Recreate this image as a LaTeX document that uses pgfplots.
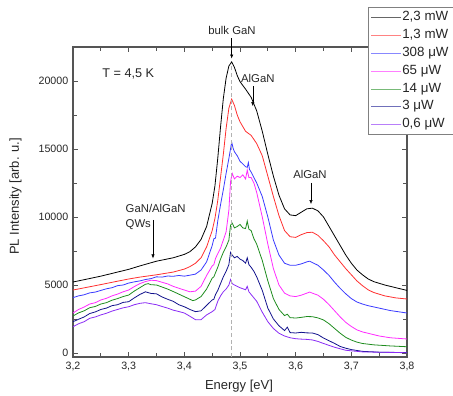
\documentclass[border=0pt]{standalone}
\usepackage{fontspec}
\setmainfont{Liberation Sans}
\usepackage{pgfplots}
\pgfplotsset{compat=1.18}
\usetikzlibrary{arrows.meta}
\definecolor{cRed}{HTML}{FF3030}
\definecolor{cBlue}{HTML}{3A3AFF}
\definecolor{cMag}{HTML}{FF2AFF}
\definecolor{cGreen}{HTML}{1E8C1E}
\definecolor{cNavy}{HTML}{12128C}
\definecolor{cViolet}{HTML}{8A2BF5}
\definecolor{axgray}{HTML}{555555}
\begin{document}
\begin{tikzpicture}
\begin{axis}[
  scale only axis, width=250.5pt, height=232.5pt,
  xmin=3.2, xmax=3.8, ymin=-294, ymax=22500,
  xtick={3.2,3.3,3.4,3.5,3.6,3.7,3.8},
  ytick={0,5000,10000,15000,20000},
  scaled y ticks=false,
  minor x tick num=1, minor y tick num=1,
  tick align=inside,
  major tick length=3.5pt, minor tick length=3pt,
  axis line style={axgray, line width=0.8pt},
  every tick/.style={axgray, line width=0.6pt},
  /pgf/number format/assume math mode=true,
  /pgf/number format/1000 sep={},
  yticklabel style={/pgf/number format/fixed},
  xticklabel style={/pgf/number format/use comma, /pgf/number format/fixed, /pgf/number format/precision=1},
  tick label style={font=\fontsize{8}{9}\selectfont, text=black!85},
  xlabel={Energy [eV]}, ylabel={PL Intensity [arb. u.]},
  label style={font=\fontsize{9.75}{11}\selectfont, text=black!85},
  xlabel style={at={(axis description cs:0.497,-0.0935)}, anchor=center},
  ylabel style={at={(axis description cs:-0.172,0.518)}, anchor=center},
  clip=false,
  legend style={at={(axis description cs:0.883,1.129)}, anchor=north west,
    draw=gray, fill=white, line width=0.6pt,
    font=\fontsize{10}{11}\selectfont, text=black!85,
    nodes={inner sep=1pt, text height=7.2pt, text depth=2.2pt},
    row sep=1.95pt, inner xsep=2pt, inner ysep=2pt},
  legend cell align=left,
  legend image code/.code={\draw[#1, line width=0.5pt, draw opacity=0.6] (0pt,0pt) -- (22pt,0pt);},
  every axis plot/.append style={line width=0.6pt},
]
\addplot[draw=black] coordinates {
(3.20,5220)(3.22,5390)(3.25,5650)(3.28,5950)(3.30,6150)(3.32,6400)(3.35,6750)(3.38,7000)(3.40,7250)(3.41,7450)(3.42,7800)(3.43,8350)(3.44,9300)(3.45,11000)(3.455,12300)(3.46,14300)(3.465,16600)(3.47,18700)(3.475,20200)(3.48,21100)(3.485,21400)(3.49,21000)(3.495,20400)(3.50,19950)(3.51,19400)(3.52,18800)(3.53,17800)(3.54,16300)(3.55,14600)(3.56,13000)(3.57,11600)(3.58,10600)(3.59,10150)(3.60,10100)(3.61,10350)(3.62,10600)(3.63,10650)(3.64,10450)(3.65,10000)(3.66,9300)(3.67,8600)(3.68,7900)(3.69,7200)(3.70,6600)(3.71,6100)(3.72,5750)(3.73,5450)(3.74,5250)(3.76,5000)(3.78,4800)(3.80,4600)};
\addlegendentry{\makebox[50pt][l]{2,3 mW}}
\addplot[draw=cRed] coordinates {
(3.20,4630)(3.22,4790)(3.25,5030)(3.28,5280)(3.30,5440)(3.32,5580)(3.35,5750)(3.38,5950)(3.40,6170)(3.41,6350)(3.42,6600)(3.43,7000)(3.44,7800)(3.45,9000)(3.455,9900)(3.46,11200)(3.465,12900)(3.47,14600)(3.475,16500)(3.48,18000)(3.485,18670)(3.49,18200)(3.495,17500)(3.50,17000)(3.51,16300)(3.52,16000)(3.53,15400)(3.54,14500)(3.55,13000)(3.56,11500)(3.57,10100)(3.58,9000)(3.59,8550)(3.60,8500)(3.61,8700)(3.62,8850)(3.63,8880)(3.64,8650)(3.65,8250)(3.66,7800)(3.67,7200)(3.68,6700)(3.69,6200)(3.70,5750)(3.71,5300)(3.72,4950)(3.73,4650)(3.74,4450)(3.76,4200)(3.78,4050)(3.80,3970)};
\addlegendentry{1,3 mW}
\addplot[draw=cBlue] coordinates {
(3.20,4070)(3.21,4200)(3.22,4280)(3.23,4420)(3.24,4480)(3.25,4600)(3.26,4720)(3.27,4800)(3.28,4950)(3.29,5000)(3.30,5140)(3.31,5230)(3.32,5300)(3.33,5400)(3.34,5470)(3.35,5600)(3.36,5580)(3.37,5660)(3.38,5640)(3.39,5700)(3.40,5650)(3.41,5720)(3.42,5800)(3.43,6100)(3.44,6700)(3.45,7900)(3.453,8400)(3.456,8450)(3.46,9700)(3.465,10900)(3.47,12000)(3.475,13200)(3.48,14300)(3.485,15500)(3.488,15000)(3.49,14800)(3.495,14500)(3.50,14100)(3.505,13900)(3.51,13700)(3.513,13650)(3.515,14000)(3.517,13500)(3.52,13300)(3.525,12900)(3.53,12500)(3.54,11500)(3.55,10000)(3.56,8300)(3.57,7200)(3.58,6600)(3.59,6450)(3.60,6450)(3.61,6550)(3.62,6700)(3.625,6750)(3.63,6650)(3.64,6450)(3.65,6100)(3.66,5700)(3.67,5200)(3.68,4750)(3.69,4350)(3.70,4000)(3.71,3750)(3.72,3600)(3.73,3480)(3.75,3300)(3.77,3120)(3.80,2940)};
\addlegendentry{308 μW}
\addplot[draw=cMag] coordinates {
(3.20,2940)(3.21,3200)(3.22,3380)(3.23,3600)(3.24,3700)(3.25,3900)(3.26,4020)(3.27,4200)(3.28,4330)(3.29,4500)(3.30,4630)(3.31,4880)(3.32,5100)(3.33,5250)(3.34,5350)(3.35,5320)(3.36,5200)(3.37,5080)(3.38,4900)(3.39,4760)(3.40,4630)(3.41,4500)(3.42,4550)(3.43,4900)(3.44,5700)(3.45,6400)(3.453,6500)(3.456,6950)(3.46,7300)(3.465,7700)(3.47,8300)(3.475,8900)(3.48,10500)(3.483,12600)(3.486,13200)(3.49,12800)(3.495,13000)(3.50,12900)(3.505,13100)(3.51,12800)(3.513,13450)(3.516,12900)(3.52,12900)(3.525,12500)(3.53,11800)(3.54,10000)(3.55,8000)(3.56,6200)(3.57,5000)(3.58,4400)(3.59,4200)(3.60,4150)(3.61,4250)(3.62,4400)(3.625,4480)(3.63,4400)(3.64,4250)(3.65,3950)(3.66,3550)(3.67,3100)(3.68,2650)(3.69,2250)(3.70,1950)(3.71,1700)(3.72,1550)(3.73,1450)(3.75,1250)(3.77,1120)(3.80,1030)};
\addlegendentry{65 μW}
\addplot[draw=cGreen] coordinates {
(3.20,2720)(3.21,2950)(3.22,3100)(3.23,3330)(3.24,3420)(3.25,3600)(3.26,3700)(3.27,3880)(3.28,4000)(3.29,4150)(3.30,4260)(3.31,4550)(3.32,4800)(3.33,5050)(3.335,5100)(3.34,5020)(3.35,5000)(3.36,4850)(3.37,4700)(3.38,4520)(3.39,4330)(3.40,4140)(3.41,3950)(3.415,3850)(3.42,3900)(3.43,4150)(3.44,4700)(3.45,5500)(3.453,5600)(3.456,5900)(3.46,6300)(3.465,6900)(3.47,7400)(3.475,7800)(3.48,8300)(3.483,9400)(3.486,9550)(3.49,9200)(3.495,9300)(3.50,9450)(3.505,9200)(3.51,9150)(3.513,9700)(3.516,9100)(3.52,9000)(3.525,8400)(3.53,8000)(3.54,6800)(3.55,5300)(3.56,4000)(3.57,3200)(3.58,2750)(3.585,2850)(3.59,2600)(3.60,2570)(3.61,2620)(3.62,2680)(3.63,2670)(3.64,2580)(3.65,2430)(3.66,2150)(3.67,1800)(3.68,1450)(3.69,1150)(3.70,950)(3.71,800)(3.72,700)(3.74,600)(3.77,520)(3.80,460)};
\addlegendentry{14 μW}
\addplot[draw=cNavy] coordinates {
(3.20,2300)(3.21,2480)(3.22,2650)(3.23,2900)(3.24,3020)(3.25,3200)(3.26,3300)(3.27,3480)(3.28,3550)(3.29,3720)(3.30,3770)(3.31,4050)(3.32,4300)(3.33,4500)(3.34,4380)(3.35,4350)(3.36,4120)(3.37,3950)(3.38,3800)(3.39,3550)(3.40,3400)(3.41,3200)(3.42,3040)(3.43,3100)(3.44,3500)(3.445,3700)(3.45,3900)(3.453,3950)(3.456,4300)(3.46,4600)(3.465,5100)(3.47,5600)(3.475,6000)(3.48,6500)(3.483,7400)(3.486,7200)(3.49,7000)(3.495,7100)(3.50,6900)(3.505,6800)(3.51,6600)(3.513,7000)(3.516,6500)(3.52,6300)(3.525,6000)(3.53,5600)(3.54,4600)(3.55,3300)(3.56,2500)(3.57,2000)(3.58,1650)(3.585,1900)(3.59,1500)(3.60,1470)(3.61,1520)(3.62,1480)(3.63,1470)(3.64,1350)(3.65,1100)(3.66,900)(3.67,700)(3.68,480)(3.69,350)(3.70,250)(3.72,120)(3.75,60)(3.80,30)};
\addlegendentry{3 μW}
\addplot[draw=cViolet] coordinates {
(3.20,1930)(3.21,2150)(3.22,2300)(3.23,2550)(3.24,2650)(3.25,2800)(3.26,2920)(3.27,3080)(3.28,3200)(3.29,3320)(3.30,3400)(3.31,3550)(3.32,3650)(3.33,3700)(3.34,3620)(3.35,3550)(3.36,3420)(3.37,3300)(3.38,3150)(3.39,3050)(3.40,2940)(3.41,2700)(3.42,2450)(3.43,2450)(3.44,2800)(3.45,3040)(3.455,3200)(3.46,3800)(3.465,4200)(3.47,4500)(3.475,4700)(3.48,5000)(3.483,5400)(3.486,5100)(3.49,5000)(3.495,4900)(3.50,4800)(3.51,4650)(3.513,4900)(3.516,4500)(3.52,4300)(3.53,3800)(3.54,3000)(3.55,2300)(3.56,1800)(3.57,1450)(3.58,1250)(3.59,1120)(3.60,1050)(3.61,1020)(3.62,1000)(3.63,960)(3.64,850)(3.65,700)(3.66,560)(3.67,420)(3.69,200)(3.72,80)(3.80,20)};
\addlegendentry{0,6 μW}
\addplot[forget plot, draw=gray!60, densely dashed, line width=0.4pt] coordinates {(3.485,-294)(3.485,21300)};
% annotations
\node[font=\fontsize{9.5}{11}\selectfont, anchor=west, text=black!85] at (axis cs:3.2444,20500) {T = 4,5 K};
\node[font=\fontsize{8.5}{10}\selectfont, text=black!85] at (axis cs:3.4856,23750) {bulk GaN};
\draw[-{Latex[length=3pt,width=2.5pt]}, line width=0.4pt] (axis cs:3.485,23150) -- (axis cs:3.485,21650);
\node[font=\fontsize{8.5}{10}\selectfont, text=black!85] at (axis cs:3.532,20220) {AlGaN};
\draw[-{Latex[length=3pt,width=2.5pt]}, line width=0.4pt] (axis cs:3.523,19630) -- (axis cs:3.523,18150);
\node[font=\fontsize{8.5}{10}\selectfont, text=black!85] at (axis cs:3.6257,13160) {AlGaN};
\draw[-{Latex[length=3pt,width=2.5pt]}, line width=0.4pt] (axis cs:3.6275,12500) -- (axis cs:3.6275,10950);
\node[font=\fontsize{8.5}{10}\selectfont, anchor=west, text=black!85] at (axis cs:3.2862,10660) {GaN/AlGaN};
\node[font=\fontsize{8.5}{10}\selectfont, anchor=west, text=black!85] at (axis cs:3.2862,9410) {QWs};
\draw[-{Latex[length=3pt,width=2.5pt]}, line width=0.4pt] (axis cs:3.3437,9780) -- (axis cs:3.3437,6950);
\coordinate (bbSW) at (rel axis cs:-0.2186,-0.1258);
\coordinate (bbNE) at (rel axis cs:1.1377,1.1516);
\end{axis}
\pgfresetboundingbox
\path[use as bounding box] (bbSW) rectangle (bbNE);
\end{tikzpicture}
\end{document}
